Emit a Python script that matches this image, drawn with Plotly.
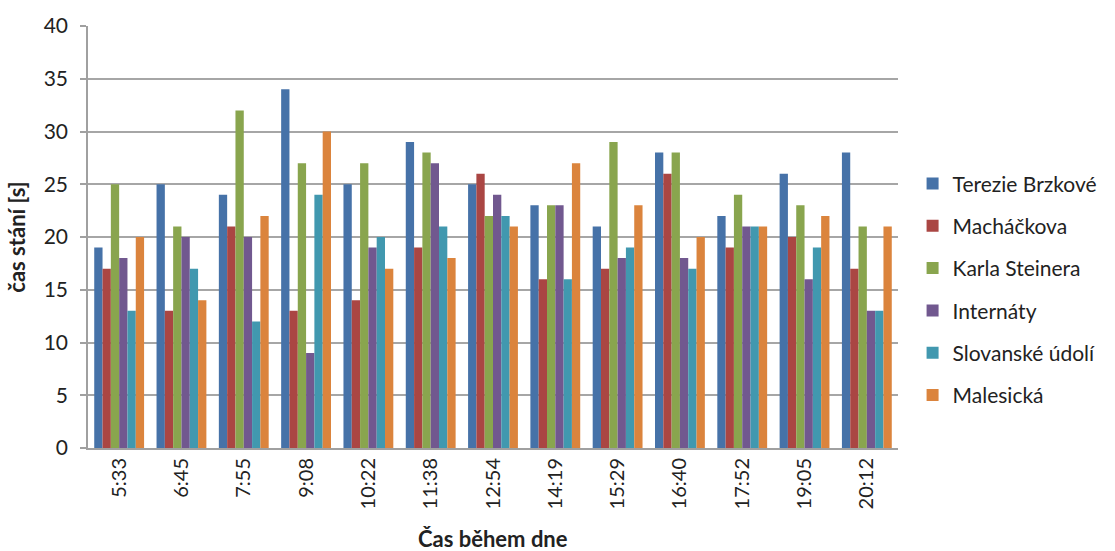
import plotly.graph_objects as go

# Times of day (categories on the x axis)
times = ["5:33", "6:45", "7:55", "9:08", "10:22", "11:38", "12:54",
         "14:19", "15:29", "16:40", "17:52", "19:05", "20:12"]

# Standing time [s] per stop
terezie_brzkove = [19, 25, 24, 34, 25, 29, 25, 23, 21, 28, 22, 26, 28]
machackova = [17, 13, 21, 13, 14, 19, 26, 16, 17, 26, 19, 20, 17]
karla_steinera = [25, 21, 32, 27, 27, 28, 22, 23, 29, 28, 24, 23, 21]
internaty = [18, 20, 20, 9, 19, 27, 24, 23, 18, 18, 21, 16, 13]
slovanske_udoli = [13, 17, 12, 24, 20, 21, 22, 16, 19, 17, 21, 19, 13]
malesicka = [20, 14, 22, 30, 17, 18, 21, 27, 23, 20, 21, 22, 21]

series_names = ["Terezie Brzkové", "Macháčkova", "Karla Steinera",
                "Internáty", "Slovanské údolí", "Malesická"]
series_values = [terezie_brzkove, machackova, karla_steinera,
                 internaty, slovanske_udoli, malesicka]
colors = ["#4672A8", "#AA4643", "#89A54E", "#71588F", "#4198AF", "#DB843D"]

font_family = "Lato, 'Open Sans', sans-serif"

fig = go.Figure()
for name, vals, col in zip(series_names, series_values, colors):
    fig.add_trace(go.Bar(
        x=times, y=vals, name=name, legendgroup=name,
        marker=dict(color=col, line=dict(width=0)),
    ))

fig.update_layout(
    width=1115, height=551,
    margin=dict(l=88, r=212, t=18, b=103),
    paper_bgcolor="white", plot_bgcolor="white",
    barmode="group", bargap=0.2, bargroupgap=0,
    font=dict(family=font_family, size=20, color="#222222"),
    legend=dict(
        x=1.018, xanchor="left", y=0.376, yanchor="middle",
        font=dict(size=21, color="#222222"),
        tracegroupgap=12, itemwidth=30,
    ),
    xaxis=dict(
        tickangle=-90, showline=True, linecolor="#A0A0A0", linewidth=2,
        ticks="", showgrid=False, tickfont=dict(size=20), automargin=False,
    ),
    yaxis=dict(
        title=dict(text="<b>čas stání [s]</b>", font=dict(size=22), standoff=12),
        range=[0, 40], dtick=5, showgrid=True, gridcolor="#A6A6A6", gridwidth=1.5,
        showline=True, linecolor="#A0A0A0", linewidth=1.5,
        ticks="outside", ticklen=6, tickcolor="#A0A0A0", tickwidth=1.5,
        tickfont=dict(size=21), zeroline=False, ticklabelstandoff=8,
    ),
    annotations=[dict(
        text="<b>Čas během dne</b>", xref="paper", yref="paper",
        x=0.5, y=-0.214, xanchor="center", yanchor="middle",
        showarrow=False, font=dict(size=22, color="#222222"),
    )],
)

fig.write_html("out.html")
